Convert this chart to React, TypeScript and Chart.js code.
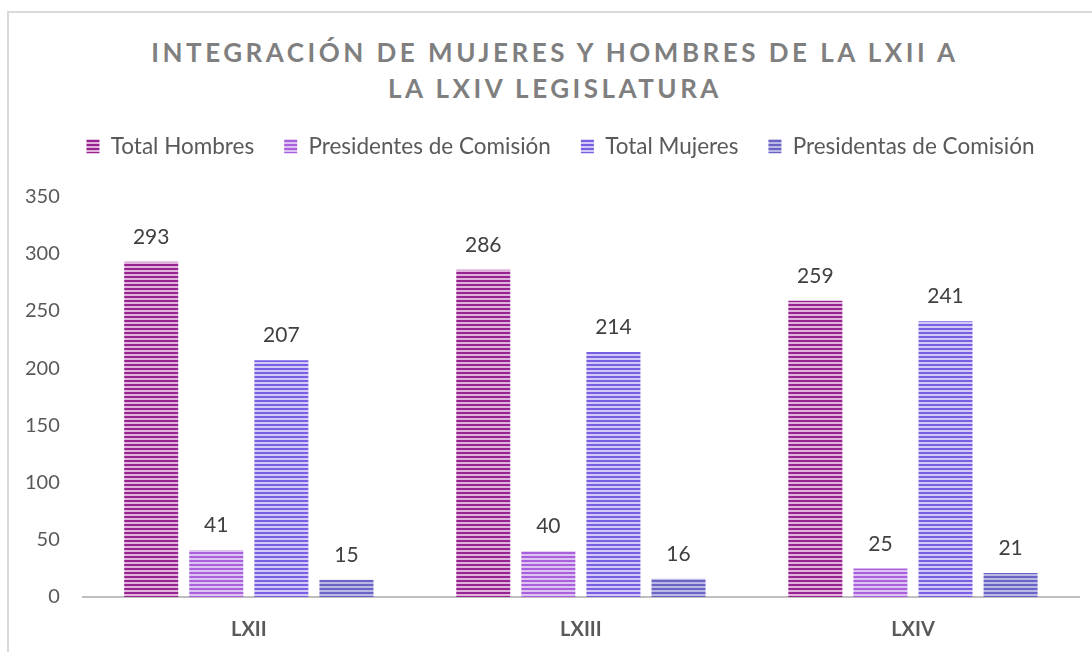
import React, { useEffect, useRef } from 'react';
import { Chart, registerables } from 'chart.js';

Chart.register(...registerables);

const categories = ['LXII', 'LXIII', 'LXIV'];
const seriesNames = ['Total Hombres', 'Presidentes de Comisión', 'Total Mujeres', 'Presidentas de Comisión'];
const totalHombres = [293, 286, 259];
const presidentesComision = [41, 40, 25];
const totalMujeres = [207, 214, 241];
const presidentasComision = [15, 16, 21];
const yTickValues = [0, 50, 100, 150, 200, 250, 300, 350];
const titleLines = ['INTEGRACIÓN DE MUJERES Y HOMBRES DE LA LXII A', 'LA LXIV LEGISLATURA'];

const stripeColors: [string, string][] = [
  ['#96238f', '#e0b3dc'],
  ['#a860de', '#dcc3f2'],
  ['#7a5fe4', '#d2c9f6'],
  ['#6a64c4', '#bcb8e6'],
];

function stripe(dark: string, light: string): CanvasPattern | string {
  const c = document.createElement('canvas');
  c.width = 4;
  c.height = 4;
  const g = c.getContext('2d');
  if (!g) return dark;
  g.fillStyle = light;
  g.fillRect(0, 0, 4, 4);
  g.fillStyle = dark;
  g.fillRect(0, 0, 4, 2);
  return g.createPattern(c, 'repeat') || dark;
}

const valueLabels = {
  id: 'valueLabels',
  afterDatasetsDraw(chart: any) {
    const ctx = chart.ctx;
    ctx.save();
    ctx.font = '21px Lato';
    ctx.fillStyle = '#404040';
    ctx.textAlign = 'center';
    ctx.textBaseline = 'bottom';
    chart.data.datasets.forEach((ds: any, i: number) => {
      chart.getDatasetMeta(i).data.forEach((bar: any, j: number) => {
        ctx.fillText(String(ds.data[j]), bar.x, bar.y - 14);
      });
    });
    ctx.restore();
  },
};

const legendSpacer = {
  id: 'legendSpacer',
  beforeInit(chart: any) {
    const legend = chart.legend;
    if (!legend) return;
    const origFit = legend.fit;
    legend.fit = function () {
      origFit.call(this);
      this.height += 29;
    };
    const origDraw = legend.draw;
    legend.draw = function () {
      const ctx = this.ctx;
      ctx.save();
      ctx.translate(20, 0);
      origDraw.call(this);
      ctx.restore();
    };
  },
};

export default function App() {
  const ref = useRef<HTMLCanvasElement | null>(null);

  useEffect(() => {
    if (!ref.current) return;
    const values = [totalHombres, presidentesComision, totalMujeres, presidentasComision];
    const chart = new Chart(ref.current, {
      type: 'bar',
      data: {
        labels: categories,
        datasets: seriesNames.map((name, i) => ({
          label: name,
          data: values[i],
          backgroundColor: stripe(stripeColors[i][0], stripeColors[i][1]) as any,
          borderWidth: 0,
          categoryPercentage: 0.784,
          barPercentage: 0.83,
        })),
      },
      options: {
        animation: false,
        responsive: false,
        layout: { padding: { top: 105, left: 2, right: 13, bottom: 7 } },
        plugins: {
          tooltip: { enabled: false },
          title: { display: false },
          legend: {
            position: 'top',
            labels: {
              font: { family: 'Lato', size: 22.5 },
              color: '#595959',
              boxWidth: 13,
              boxHeight: 14,
              padding: 30,
            },
          },
        },
        scales: {
          x: {
            grid: { display: false, drawTicks: false },
            border: { display: true, color: '#bfbfbf', width: 2 },
            ticks: { font: { family: 'Lato', size: 20, weight: 'bold' }, color: '#595959', padding: 21 },
          },
          y: {
            min: 0,
            max: 350,
            grid: { display: false, drawTicks: false },
            border: { display: false },
            afterBuildTicks: (axis: any) => {
              axis.ticks = yTickValues.map((v) => ({ value: v }));
            },
            ticks: { font: { family: 'Lato', size: 20 }, color: '#595959', padding: 23 },
          },
        },
      },
      plugins: [valueLabels, legendSpacer],
    });
    return () => chart.destroy();
  }, []);

  return (
    <div style={{ position: 'fixed', left: 0, top: 0, width: 1092, height: 652, overflow: 'hidden', background: '#fff' }}>
      <div
        style={{
          position: 'absolute',
          left: 7,
          top: 11,
          width: 1200,
          height: 800,
          border: '2px solid #d9d9d9',
          boxSizing: 'border-box',
        }}
      />
      <div
        style={{
          position: 'absolute',
          left: 0,
          top: 34,
          width: 1110,
          textAlign: 'center',
          fontFamily: 'Lato',
          fontWeight: 'bold',
          fontSize: 26,
          lineHeight: '36px',
          letterSpacing: 3.5,
          color: '#7f7f7f',
        }}
      >
        {titleLines.map((l) => (
          <div key={l}>{l}</div>
        ))}
      </div>
      <canvas ref={ref} width={1092} height={670} style={{ position: 'absolute', left: 0, top: 0 }} />
    </div>
  );
}
